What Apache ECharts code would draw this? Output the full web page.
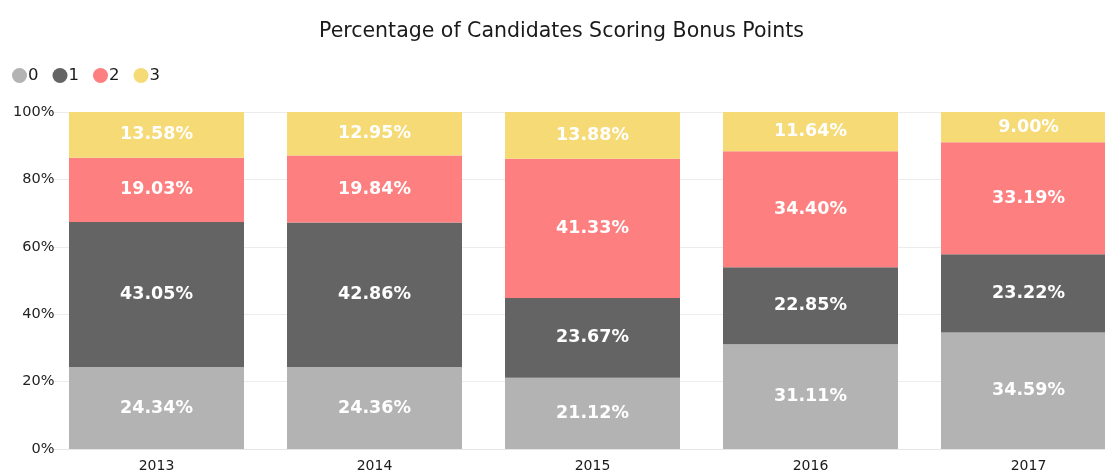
<!DOCTYPE html>
<html>
<head>
<meta charset="utf-8">
<script src="https://cdn.jsdelivr.net/npm/echarts@6/dist/echarts.min.js"></script>
<style>
  html, body { margin: 0; padding: 0; background: #fff; }
  #chart { width: 1105px; height: 476px; }
</style>
</head>
<body>
<div id="chart"></div>
<script>
const years = ['2013', '2014', '2015', '2016', '2017'];
const score0 = [24.34, 24.36, 21.12, 31.11, 34.59];
const score1 = [43.05, 42.86, 23.67, 22.85, 23.22];
const score2 = [19.03, 19.84, 41.33, 34.40, 33.19];
const score3 = [13.58, 12.95, 13.88, 11.64, 9.00];
const yTicks = [0, 20, 40, 60, 80, 100];

const colors = ['#b3b3b3', '#646464', '#fd7f7f', '#f5da76'];
const FONT = 'DejaVu Sans, sans-serif';
const myChart = echarts.init(document.getElementById('chart'));

function makeSeries(name, data, color) {
  return {
    name: name,
    type: 'bar',
    stack: 'total',
    data: data,
    barWidth: 175,
    itemStyle: { color: color },
    label: {
      show: true,
      position: 'inside',
      color: '#fff',
      fontFamily: FONT,
      fontSize: 17.5,
      fontWeight: 'bold',
      formatter: p => p.value.toFixed(2) + '%'
    }
  };
}

const option = {
  animation: false,
  title: {
    text: 'Percentage of Candidates Scoring Bonus Points',
    left: 314,
    top: 16,
    textStyle: {
      fontFamily: FONT,
      fontSize: 20.5,
      fontWeight: 'normal',
      color: '#1a1a1a'
    }
  },
  legend: {
    left: 7,
    top: 62,
    icon: 'circle',
    itemWidth: 15,
    itemHeight: 15,
    itemGap: 14,
    textStyle: {
      fontFamily: FONT,
      fontSize: 16.5,
      color: '#1a1a1a',
      padding: [0, 0, 0, -4]
    },
    data: ['0', '1', '2', '3']
  },
  grid: {
    left: 47.5,
    right: -32.5,
    top: 112,
    bottom: 27,
    outerBoundsMode: 'none'
  },
  xAxis: {
    type: 'category',
    data: years,
    axisTick: { show: false },
    axisLine: { lineStyle: { color: '#e6e6e6' } },
    axisLabel: {
      color: '#1a1a1a',
      fontFamily: FONT,
      fontSize: 14,
      margin: 10
    }
  },
  yAxis: {
    type: 'value',
    min: yTicks[0],
    max: yTicks[yTicks.length - 1],
    interval: 20,
    offset: -21,
    axisLine: { show: false },
    axisTick: { show: false },
    splitLine: { lineStyle: { color: '#ececec' } },
    axisLabel: {
      color: '#222',
      fontFamily: FONT,
      fontSize: 14.5,
      margin: 14,
      formatter: '{value}%'
    }
  },
  series: [
    makeSeries('0', score0, colors[0]),
    makeSeries('1', score1, colors[1]),
    makeSeries('2', score2, colors[2]),
    makeSeries('3', score3, colors[3])
  ]
};

myChart.setOption(option);
</script>
</body>
</html>
